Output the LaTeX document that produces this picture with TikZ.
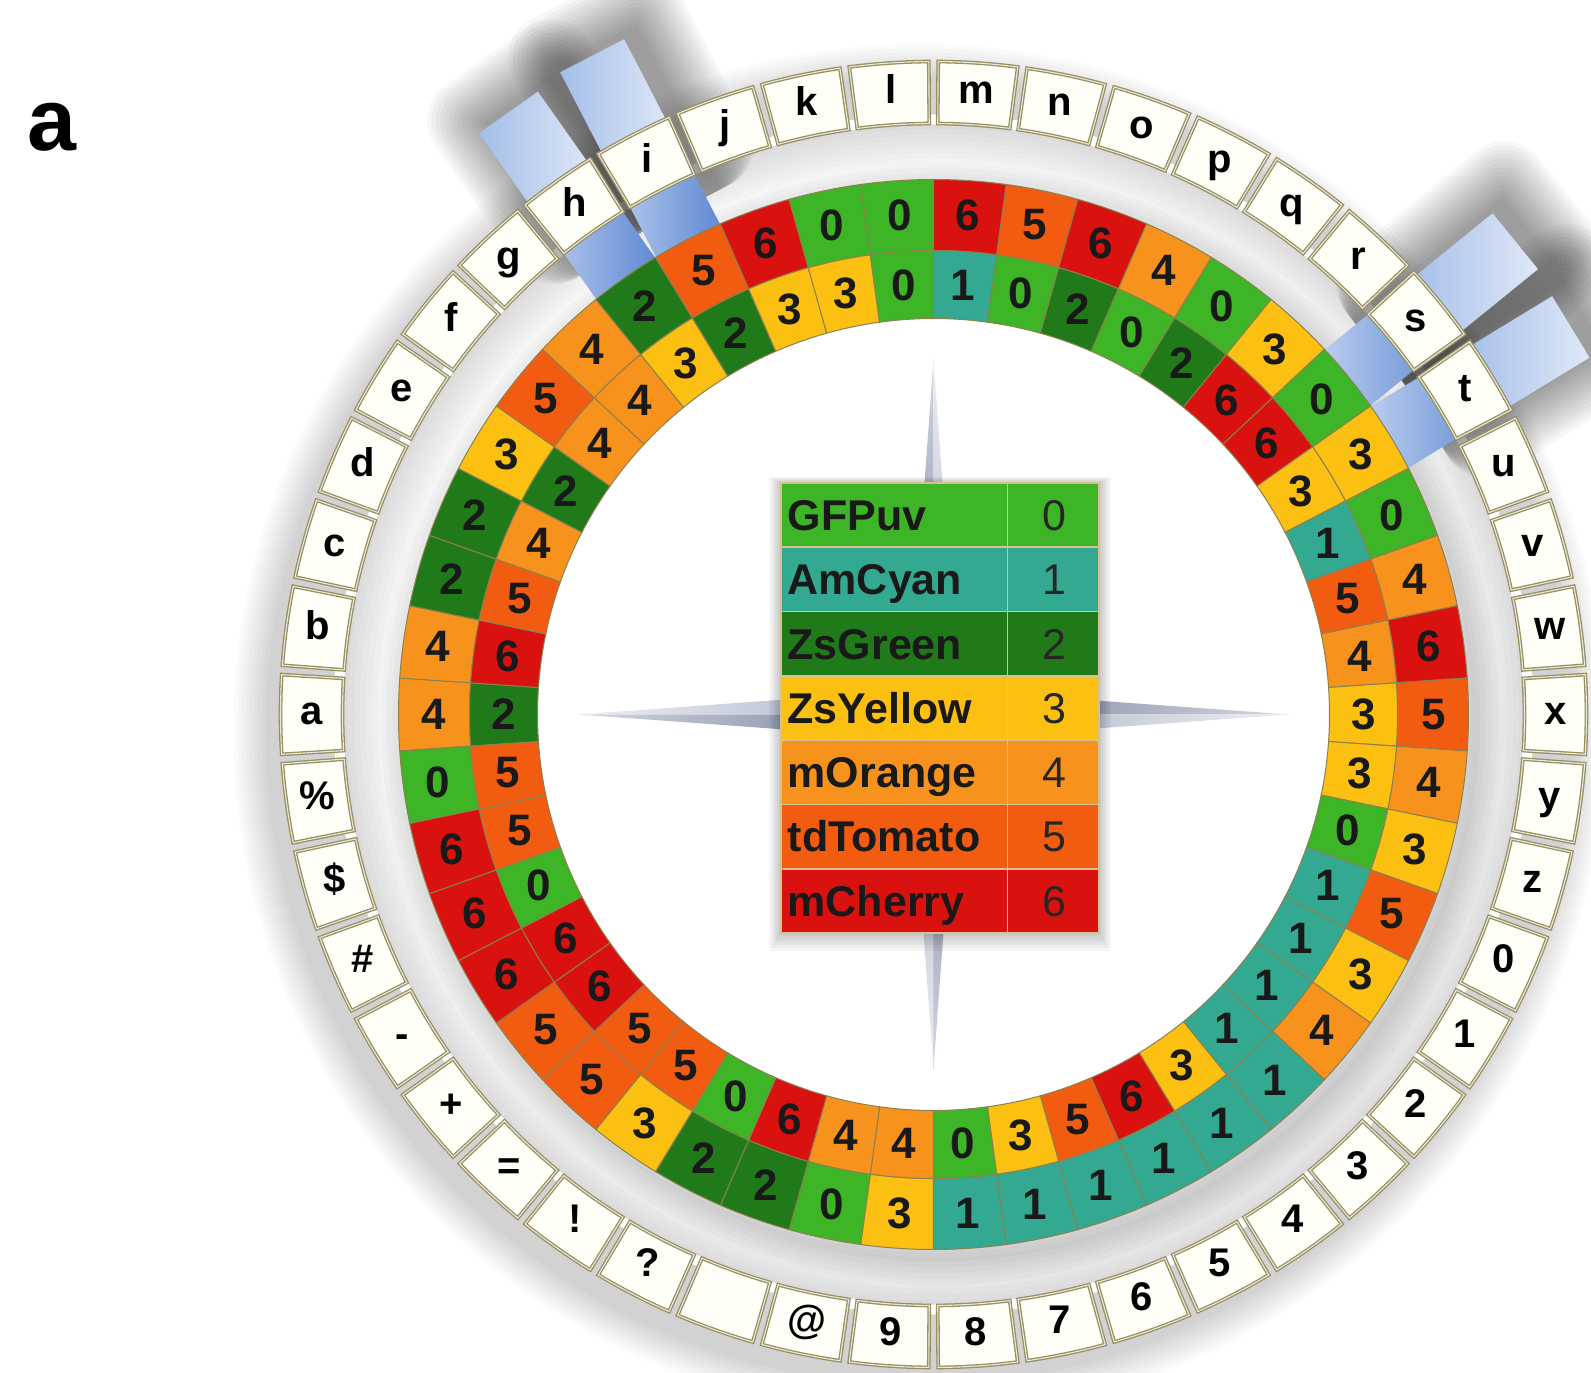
\documentclass[tikz,border=0pt]{standalone}
\usepackage{fontspec}
\setmainfont{Liberation Sans}
\usepackage{tikz}
\usetikzlibrary{calc}
\definecolor{fp0}{HTML}{3DB526}
\definecolor{fp1}{HTML}{33A992}
\definecolor{fp2}{HTML}{217A1A}
\definecolor{fp3}{HTML}{FCC012}
\definecolor{fp4}{HTML}{F7931C}
\definecolor{fp5}{HTML}{F25C10}
\definecolor{fp6}{HTML}{D91210}
\definecolor{tileedge}{HTML}{978F5F}
\definecolor{celledge}{HTML}{8C8050}
\definecolor{keyedge}{HTML}{D6C290}
\definecolor{beamfar}{HTML}{DFE8F7}
\definecolor{beamnear}{HTML}{A4BEE9}
\definecolor{beamin}{HTML}{5C88D3}
\definecolor{spikedark}{HTML}{6F7A98}
\definecolor{spikelite}{HTML}{A3ACC3}
\tikzset{
  tile/.style   ={fill=white!97!yellow, draw=tileedge, line width=1.3pt,
                  double=white!80!tileedge, double distance=1.1pt},
  cell/.style   ={draw=celledge, line width=1pt},
  glyph/.style  ={inner sep=0pt, text height=29pt, text depth=9pt,
                  font=\fontsize{40}{40}\selectfont\bfseries},
  digit/.style  ={inner sep=0pt, text=black!90,
                  font=\fontsize{44}{44}\selectfont\bfseries},
  keyname/.style={inner sep=0pt, anchor=base west, text=black!90,
                  font=\fontsize{43}{43}\selectfont\bfseries},
  keynum/.style ={inner sep=0pt, anchor=base, text=black!85,
                  font=\fontsize{43}{43}\selectfont},
  haze/.style   ={fill=black, opacity=#1, even odd rule},
  haze/.default=0.018,
}
\newcommand{\ringcell}[5]{% style, from, to, inner radius, outer radius
  \path[#1] (#2:#4) arc[start angle=#2, end angle=#3, radius=#4]
    -- (#3:#5) arc[start angle=#3, end angle=#2, radius=#5] -- cycle;}
% letter / outer digit / inner digit, clockwise from the left
\def\wheel{a/4/2, b/4/6, c/2/5, d/2/4, e/3/2, f/5/4, g/4/4, h/2/3, i/5/2,
  j/6/3, k/0/3, l/0/0, m/6/1, n/5/0, o/6/2, p/4/0, q/0/2, r/3/6, s/0/6,
  t/3/3, u/0/1, v/4/5, w/6/4, x/5/3, y/4/3, z/3/0, 0/5/1, 1/3/1, 2/4/1,
  3/1/1, 4/1/3, 5/1/6, 6/1/5, 7/1/3, 8/1/0, 9/3/4, @/0/4, {}/2/6, ?/2/0,
  !/3/5, =/5/5, +/5/6, -/6/6, \#/6/0, \$/6/5, \%/0/5}
\def\legendrows{GFPuv/0, AmCyan/1, ZsGreen/2, ZsYellow/3, mOrange/4,
  tdTomato/5, mCherry/6}
\def\beams{7/737, 8/742, 18/750, 19/746}

\begin{document}
\begin{tikzpicture}[x=1pt, y=1pt]
\useasboundingbox (-933.5,-658.5) rectangle (657.5,714.5);
\clip (-933.5,-658.5) rectangle (657.5,714.5);
\fill[white] (-933.5,-658.5) rectangle (657.5,714.5);

% soft shadows round the rings
\foreach \s in {1,...,9}{
  \path[haze] (-14,-16) circle (650+4*\s) (0,0) circle (600);
  \path[haze=0.016] (0,0) circle (590) (0,0) circle (592-6*\s);
  \path[haze=0.02] (8,-10) circle (533+3*\s) (0,0) circle (480);
}

% light beams through h, i, s, t
\foreach \k/\far in \beams {
  \pgfmathsetmacro\cen{180-\k*360/46}
  \begin{scope}[shift={(10,10)}, rotate=\cen]
    \foreach \s in {1,...,14}
      \fill[black, opacity=0.03, rounded corners=3*\s]
        (560,-37-4*\s) rectangle (\far+4*\s,37+4*\s);
  \end{scope}
}
\foreach \k/\far in \beams {
  \pgfmathsetmacro\cen{180-\k*360/46}
  \begin{scope}[rotate=\cen]
    \shade[left color=beamnear, right color=beamfar] (640,-36) rectangle (\far,36);
    \shade[left color=beamin!40!white, right color=beamin] (525,-36) rectangle (640,36);
  \end{scope}
}

% letter tiles and the two rings of digits
\foreach \ch/\outv/\inv [count=\k from 0] in \wheel {
  \pgfmathsetmacro\cen{180-\k*360/46}
  \pgfmathsetmacro\tlo{\cen-3.5}
  \pgfmathsetmacro\thi{\cen+3.5}
  \pgfmathsetmacro\cla{\cen-180/46}
  \pgfmathsetmacro\clb{\cen+180/46}
  \ringcell{tile}{\tlo}{\thi}{591}{653}
  \node[glyph] (ch\k) at (\cen:622) {\ch};
  \ringcell{cell, fill=fp\outv}{\cla}{\clb}{464}{535}
  \ringcell{cell, fill=fp\inv}{\cla}{\clb}{396}{464}
  \node[digit] (out\k) at (\cen:500) {\outv};
  \node[digit] (in\k) at (\cen:430) {\inv};
}

% compass star behind the key
\foreach \ang in {0,90,180,270}{
  \pgfmathsetmacro\sa{\ang-90}
  \shade[top color=white!70!spikedark, bottom color=spikedark, shading angle=\sa]
    (0,0) -- (\ang+45:34) -- (\ang:355) -- cycle;
  \shade[top color=white!80!spikelite, bottom color=spikelite, shading angle=\sa]
    (0,0) -- (\ang-45:34) -- (\ang:355) -- cycle;
}

% key
\foreach \s in {1,...,6}
  \fill[black, opacity=0.035] (-152.5-2*\s,-218.5-3*\s) rectangle (165.5+2*\s,231.5+\s);
\foreach \fp/\num [count=\r from 0] in \legendrows {
  \pgfmathsetmacro\yt{231.5-\r*64.29}
  \pgfmathsetmacro\ym{\yt-32.14-15.4}
  \fill[fp\num] (-152.5,\yt) rectangle (165.5,\yt-64.29);
  \node[keyname] (key\num) at (-146,\ym) {\fp};
  \node[keynum] (val\num) at (121,\ym) {\num};
}
\foreach \r in {1,...,6}
  \draw[keyedge, line width=1.6pt] (-152.5,231.5-\r*64.29) -- (165.5,231.5-\r*64.29);
\draw[keyedge, line width=1.6pt] (74,231.5) -- (74,-218.5);
\draw[keyedge, line width=1.2pt] (-152.5,-218.5) rectangle (165.5,231.5);

\node[inner sep=0pt, font=\fontsize{88}{88}\selectfont\bfseries] (panel) at (-881.5,587) {a};
\end{tikzpicture}
\end{document}
